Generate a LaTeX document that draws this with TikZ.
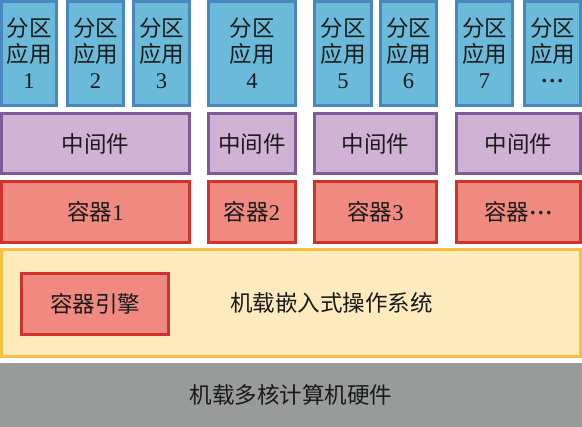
\documentclass[tikz,border=0pt]{standalone}
\usepackage{fontspec}
\setmainfont{Liberation Serif}
\newfontfamily\cjk{Noto Sans CJK SC}
\definecolor{appfill}{HTML}{6BBAD9}
\definecolor{appdraw}{HTML}{4A86BF}
\definecolor{mwfill}{HTML}{D0B3D4}
\definecolor{mwdraw}{HTML}{7E5A9B}
\definecolor{ctfill}{HTML}{F08A80}
\definecolor{ctdraw}{HTML}{D0322E}
\definecolor{osfill}{HTML}{FEEBBD}
\definecolor{osdraw}{HTML}{F8BF40}
\definecolor{hwfill}{HTML}{999B9A}
\definecolor{txt}{HTML}{1A1A1A}
\tikzset{
  base/.style={rectangle, line width=3pt, inner sep=0pt, outer sep=0pt, text=txt,
    align=center, font=\fontsize{22.5}{26}\selectfont},
  app/.style={base, fill=appfill, draw=appdraw, minimum height=104pt},
  mw/.style={base, fill=mwfill, draw=mwdraw, minimum height=60pt},
  ct/.style={base, fill=ctfill, draw=ctdraw, minimum height=61pt},
}
\newcommand{\apptext}[1]{{\cjk 分区}\\{\cjk 应用}\\#1}
\newcommand{\mydots}{\textbf{·}\kern0.5pt\textbf{·}\kern0.5pt\textbf{·}}
\begin{document}
\begin{tikzpicture}[x=1pt,y=1pt]
\useasboundingbox (0,0) rectangle (582,427);
% apps
\node[app, minimum width=55pt] (a1) at (29,373.5) {\apptext{1}};
\node[app, minimum width=56pt] (a2) at (95.5,373.5) {\apptext{2}};
\node[app, minimum width=56pt] (a3) at (161.5,373.5) {\apptext{3}};
\node[app, minimum width=87pt] (a4) at (252,373.5) {\apptext{4}};
\node[app, minimum width=57pt] (a5) at (343,373.5) {\apptext{5}};
\node[app, minimum width=56pt] (a6) at (408.5,373.5) {\apptext{6}};
\node[app, minimum width=56pt] (a7) at (484.5,373.5) {\apptext{7}};
\node[app, minimum width=56pt] (a8) at (552.5,373.5) {\apptext{\mydots}};
% middleware
\node[mw, minimum width=188pt] (m1) at (95.5,283.5) {\cjk 中间件};
\node[mw, minimum width=87pt] (m2) at (252,283.5) {\cjk 中间件};
\node[mw, minimum width=122pt] (m3) at (375.5,283.5) {\cjk 中间件};
\node[mw, minimum width=124pt] (m4) at (518.5,283.5) {\cjk 中间件};
% containers
\node[ct, minimum width=188pt] (c1) at (95.5,215) {{\cjk 容器}1};
\node[ct, minimum width=87pt] (c2) at (252,215) {{\cjk 容器}2};
\node[ct, minimum width=122pt] (c3) at (375.5,215) {{\cjk 容器}3};
\node[ct, minimum width=124pt] (c4) at (518.5,215) {{\cjk 容器}\mydots};
% OS layer
\node[base, fill=osfill, draw=osdraw, minimum width=579pt, minimum height=107pt] (os) at (291,124) {};
\node[ct, minimum width=147pt] (eng) at (95,123) {\cjk 容器引擎};
\node[base, draw=none, fill=none] (ostxt) at (331.5,124) {\cjk 机载嵌入式操作系统};
% hardware
\node[base, draw=none, fill=hwfill, minimum width=582pt, minimum height=64pt] (hw) at (291,32) {\cjk 机载多核计算机硬件};
\end{tikzpicture}
\end{document}
